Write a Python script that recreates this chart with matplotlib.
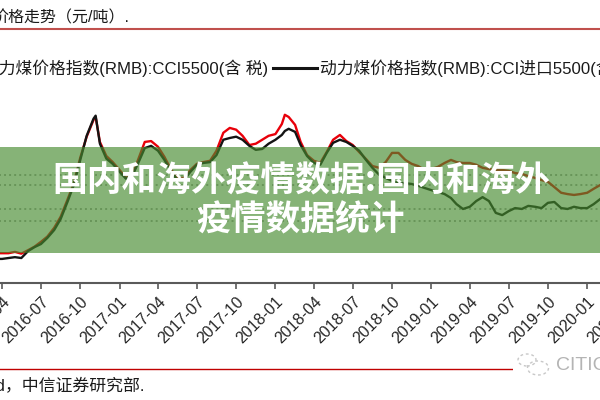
import numpy as np
import matplotlib
matplotlib.use('Agg')
import matplotlib.pyplot as plt
from matplotlib.patches import Rectangle, Circle
from matplotlib.lines import Line2D

# ---------------- data ----------------
dates = [
    '2016-03-16',
    '2016-04-01', '2016-04-16', '2016-05-01', '2016-05-16', '2016-06-01', '2016-06-16',
    '2016-07-01', '2016-07-16', '2016-08-01', '2016-08-16', '2016-09-01', '2016-09-16',
    '2016-10-01', '2016-10-16', '2016-11-01', '2016-11-06', '2016-11-16', '2016-12-01', '2016-12-16',
    '2017-01-01', '2017-01-16', '2017-02-01', '2017-02-16', '2017-03-01', '2017-03-16',
    '2017-04-01', '2017-04-16', '2017-05-01', '2017-05-16', '2017-06-01', '2017-06-16',
    '2017-07-01', '2017-07-16', '2017-08-01', '2017-08-16', '2017-09-01', '2017-09-16',
    '2017-10-01', '2017-10-16', '2017-11-01', '2017-11-16', '2017-12-01', '2017-12-16',
    '2018-01-01', '2018-01-16', '2018-01-23', '2018-02-01', '2018-02-16', '2018-03-01', '2018-03-16',
    '2018-04-01', '2018-04-16', '2018-05-01', '2018-05-16', '2018-06-01', '2018-06-16',
    '2018-07-01', '2018-07-16', '2018-08-01', '2018-08-16', '2018-09-01', '2018-09-16',
    '2018-10-01', '2018-10-16', '2018-11-01', '2018-11-16', '2018-12-01', '2018-12-16',
    '2019-01-01', '2019-01-16', '2019-02-01', '2019-02-16', '2019-03-01', '2019-03-16',
    '2019-04-01', '2019-04-16', '2019-05-01', '2019-05-16', '2019-06-01', '2019-06-16',
    '2019-07-01', '2019-07-16', '2019-08-01', '2019-08-16', '2019-09-01', '2019-09-16',
    '2019-10-01', '2019-10-16', '2019-11-01', '2019-11-16', '2019-12-01', '2019-12-16',
    '2020-01-01', '2020-01-16', '2020-02-01', '2020-02-16',
]

# CCI5500 (含税), RMB/t
cci5500_tax = [
    391,
    391, 391, 394, 390, 398, 406,
    417, 429, 449, 474, 513, 551,
    609, 657, 695, 702, 645, 613, 599,
    581, 563, 572, 611, 645, 647,
    634, 611, 583, 563, 563, 581,
    595, 599, 602, 625, 666, 677,
    673, 659, 638, 641, 650, 659,
    663, 686, 707, 702, 684, 645, 615,
    602, 597, 622, 650, 661, 647,
    638, 622, 606, 590, 586, 599,
    620, 620, 604, 595, 590, 581,
    583, 588, 597, 604, 599, 597,
    597, 593, 586, 583, 581, 581,
    579, 574, 572, 567, 563, 558,
    554, 542, 529, 526, 524, 526,
    529, 538, 547, 551,
]

# CCI进口5500, RMB/t
cci_import5500 = [
    378,
    378, 380, 382, 380, 396, 405,
    412, 426, 444, 469, 508, 547,
    604, 659, 698, 705, 641, 607, 595,
    577, 561, 570, 602, 631, 636,
    625, 604, 579, 558, 558, 577,
    593, 597, 599, 615, 650, 654,
    657, 650, 636, 627, 629, 641,
    650, 661, 670, 675, 668, 638, 613,
    597, 593, 620, 643, 650, 645,
    636, 625, 604, 586, 570, 563,
    556, 551, 551, 549, 545, 540,
    535, 531, 526, 517, 503, 492,
    497, 510, 519, 510, 483, 478,
    487, 494, 492, 499, 497, 494,
    506, 508, 494, 492, 497, 494,
    494, 503, 515, 519,
]

tick_labels = ['2016-01', '2016-04', '2016-07', '2016-10',
               '2017-01', '2017-04', '2017-07', '2017-10',
               '2018-01', '2018-04', '2018-07', '2018-10',
               '2019-01', '2019-04', '2019-07', '2019-10',
               '2020-01', '2020-04']
grid_levels = [465, 492, 547, 570]

title_text = '价格走势（元/吨）.'
legend_1 = '动力煤价格指数(RMB):CCI5500(含 税)'
legend_2 = '动力煤价格指数(RMB):CCI进口5500(含 税)'
source_text = '资料来源：Wind，中信证券研究部.'
banner_1 = '国内和海外疫情数据:国内和海外'
banner_2 = '疫情数据统计'

# ---------------- layout ----------------
W, H = 600, 400
def fx(px):
    return px / W
def fy(py):
    return 1 - py / H

CJK = ['Liberation Sans', 'Noto Sans CJK SC', 'DejaVu Sans']

fig = plt.figure(figsize=(6, 4), dpi=100)
fig.patch.set_facecolor('white')

ax = fig.add_axes([fx(-50), fy(283), 700 / W, 198 / H])
ax.set_facecolor('none')

d = np.array(dates, dtype='datetime64[D]')
for lv in grid_levels:
    ax.axhline(lv, color='#a9a9a9', lw=1.4, ls=(0, (1, 1.6)), zorder=1)
ax.plot(d, cci5500_tax, color='#e8000a', lw=1.7, zorder=3)
ax.plot(d, cci_import5500, color='#141414', lw=1.7, zorder=4)

ax.set_xlim(np.datetime64('2015-12-01'), np.datetime64('2020-05-27'))
ax.set_ylim(323, 775)
ticks = np.array([t + '-01' for t in tick_labels], dtype='datetime64[D]')
ax.set_xticks(ticks)
ax.set_xticklabels(tick_labels, rotation=45, ha='right', rotation_mode='anchor',
                   fontsize=11.5, family=CJK, color='#262626')
ax.set_yticks([])
for s in ['top', 'left', 'right']:
    ax.spines[s].set_visible(False)
ax.spines['bottom'].set_color('#5a5a5a')
ax.spines['bottom'].set_linewidth(1.5)
ax.tick_params(axis='x', direction='out', length=4, width=1.2, color='#5a5a5a', pad=4)

# header
fig.text(fx(-8), fy(18), title_text, fontsize=11.5, family=CJK, va='center', ha='left',
         color='#1a1a1a')
fig.add_artist(Line2D([0, 1], [fy(29), fy(29)], color='#c0504d', lw=1.5,
                      transform=fig.transFigure))
fig.text(fx(268), fy(68), legend_1, fontsize=12.1, family=CJK, va='center', ha='right',
         color='#1a1a1a')
fig.add_artist(Line2D([fx(273), fx(317)], [fy(68), fy(68)], color='#141414', lw=2.2,
                      transform=fig.transFigure))
fig.text(fx(320), fy(68), legend_2, fontsize=12.1, family=CJK, va='center', ha='left',
         color='#1a1a1a')

# footer
fig.add_artist(Line2D([0, 1], [fy(369), fy(369)], color='#c00000', lw=1.0,
                      transform=fig.transFigure))
fig.text(fx(145), fy(386), source_text, fontsize=12.2, family=CJK, va='center', ha='right',
         color='#1a1a1a')
fig.add_artist(Rectangle((fx(513), fy(382)), fx(87), 28 / H, transform=fig.transFigure,
                         facecolor='white', edgecolor='none', zorder=3))
fig.add_artist(Circle((fx(527), fy(360)), 6 / H, transform=fig.transFigure, fill=False,
                      ls=(0, (2, 2)), edgecolor='#c8c8c8', lw=1.0, zorder=4))
fig.add_artist(Circle((fx(538), fy(368)), 7 / H, transform=fig.transFigure, fill=False,
                      ls=(0, (2, 2)), edgecolor='#c8c8c8', lw=1.0, zorder=4))
fig.text(fx(556), fy(366), 'CITIC', fontsize=14, family=CJK, va='center', ha='left',
         color='#b4b4b4', zorder=4)

# banner overlay
fig.add_artist(Rectangle((0, fy(253)), 1, 106 / H, transform=fig.transFigure,
                         facecolor=(69 / 255, 138 / 255, 46 / 255), alpha=0.65,
                         edgecolor='none', zorder=5))
fig.text(0.502, fy(181), banner_1, fontsize=25, fontweight='bold',
         family=['Noto Sans CJK SC', 'DejaVu Sans'], color='white',
         ha='center', va='center', zorder=6)
fig.text(0.5, fy(220), banner_2, fontsize=25, fontweight='bold',
         family=['Noto Sans CJK SC', 'DejaVu Sans'], color='white',
         ha='center', va='center', zorder=6)

fig.savefig('out.png', dpi=100, facecolor='white')
